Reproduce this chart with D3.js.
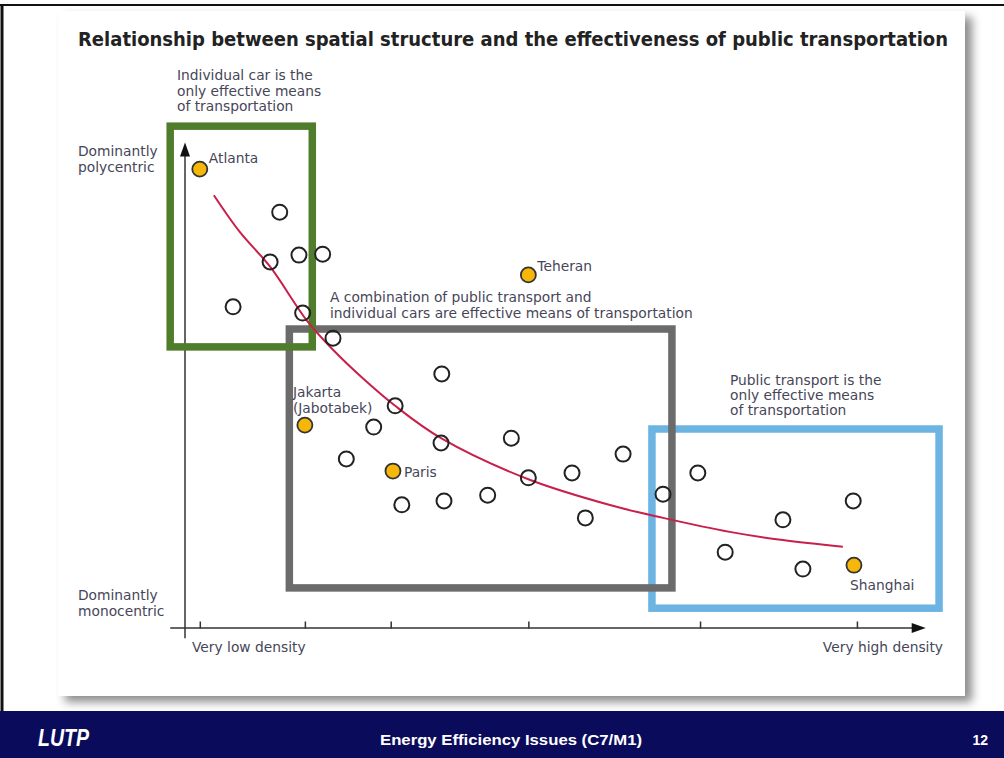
<!DOCTYPE html>
<html>
<head>
<meta charset="utf-8">
<script src="https://cdn.jsdelivr.net/npm/d3@7"></script>
<style>
  body { margin: 0; background: #fff; }
  svg { display: block; }
  text { font-family: "DejaVu Sans", sans-serif; }
</style>
</head>
<body>
<div id="viz"></div>
<script>
// density (0 = very low, 100 = very high) vs structure (0 = monocentric, 100 = polycentric)
let cityNames = ['Atlanta', 'Teheran', 'Jakarta', 'Paris', 'Shanghai'];
let cityX = [2.0, 46.4, 16.2, 28.1, 90.4];
let cityY = [95.0, 73.1, 42.0, 32.5, 13.0];

let otherX = [12.8, 11.5, 15.4, 18.6, 6.5, 15.9, 20.0, 34.7, 28.4, 25.5, 34.6, 44.1, 21.8,
    29.3, 35.0, 40.9, 46.4, 52.3, 59.2, 54.1, 64.6, 69.3, 73.0, 80.8, 90.3, 83.5];
let otherY = [86.1, 75.8, 77.2, 77.4, 66.5, 65.2, 60.0, 52.6, 46.0, 41.6, 38.3, 39.3, 35.0,
    25.5, 26.3, 27.5, 31.1, 32.1, 36.0, 22.8, 27.7, 32.1, 15.7, 22.4, 26.3, 12.2];

// trend curve
let trendX = [3.9, 7.4, 11.5, 16.5, 20.0, 24.1, 28.4, 34.6, 46.4, 57.8, 64.6, 73.6, 80.8, 88.9];
let trendY = [89.6, 82.0, 74.8, 63.6, 57.6, 51.6, 46.0, 39.3, 30.8, 25.3, 22.8, 19.9, 18.2, 16.8];

let tickVals = [2.0, 16.2, 27.8, 46.4, 69.6, 90.8];

// zones: [x0, x1, y0, y1]
let zoneNames = ['transit', 'mixed', 'car'];
let zoneBounds = [[63.1, 101.9, 4.1, 41.2], [14.1, 65.8, 8.3, 61.9], [-2.0, 17.2, 58.2, 103.9]];
let zoneColors = ['#6cb4e2', '#6b6b6b', '#4f7d2b'];

let width = 1004, height = 758;

let svg = d3.select('#viz').append('svg')
    .attr('width', width)
    .attr('height', height);

let defs = svg.append('defs');
let shadow = defs.append('filter').attr('id', 'shadow')
    .attr('x', '-5%').attr('y', '-5%').attr('width', '115%').attr('height', '115%');
shadow.append('feDropShadow')
    .attr('dx', 7).attr('dy', 6).attr('stdDeviation', 5)
    .attr('flood-color', '#000').attr('flood-opacity', 0.45);

// slide frame
svg.append('line').attr('x1', 0).attr('x2', width).attr('y1', 5).attr('y2', 5)
    .attr('stroke', '#111').attr('stroke-width', 2);
svg.append('line').attr('x1', 2).attr('x2', 2).attr('y1', 5).attr('y2', height)
    .attr('stroke', '#111').attr('stroke-width', 3);

svg.append('rect')
    .attr('x', 58).attr('y', 11).attr('width', 907).attr('height', 685)
    .attr('fill', '#fff')
    .attr('filter', 'url(#shadow)');

// footer
svg.append('rect').attr('x', 0).attr('y', 711).attr('width', width).attr('height', 47)
    .attr('fill', '#0b0b5c');
svg.append('text').attr('x', 38).attr('y', 746)
    .style('font-family', '"Liberation Sans", Arial, sans-serif')
    .style('font-style', 'italic').style('font-weight', 'bold').style('font-size', '23px')
    .attr('textLength', 51).attr('lengthAdjust', 'spacingAndGlyphs')
    .attr('fill', '#fff').text('LUTP');
svg.append('text').attr('x', 511).attr('y', 745).attr('text-anchor', 'middle')
    .style('font-family', '"Liberation Sans Narrow", "Liberation Sans", Arial, sans-serif')
    .style('font-weight', 'bold').style('font-size', '15px')
    .attr('textLength', 262).attr('lengthAdjust', 'spacingAndGlyphs')
    .attr('fill', '#fff').text('Energy Efficiency Issues (C7/M1)');
svg.append('text').attr('x', 988).attr('y', 745).attr('text-anchor', 'end')
    .style('font-family', '"Liberation Sans", Arial, sans-serif')
    .style('font-weight', 'bold').style('font-size', '14px')
    .attr('fill', '#fff').text('12');

// title
svg.append('text').attr('x', 78).attr('y', 46)
    .style('font-family', '"DejaVu Sans Condensed", "DejaVu Sans", sans-serif')
    .style('font-weight', 'bold').style('font-size', '20px')
    .attr('textLength', 870).attr('lengthAdjust', 'spacingAndGlyphs')
    .attr('fill', '#222')
    .text('Relationship between spatial structure and the effectiveness of public transportation');

let x = d3.scaleLinear().domain([0, 100]).range([185, 925]);
let y = d3.scaleLinear().domain([0, 100]).range([628, 145]);

let labelColor = '#464658';

// axes
let g = svg.append('g');
g.append('line')
    .attr('x1', x(-2)).attr('x2', x(99)).attr('y1', y(0)).attr('y2', y(0))
    .attr('stroke', '#333').attr('stroke-width', 1.5);
g.append('line')
    .attr('x1', x(0)).attr('x2', x(0)).attr('y1', y(-2.1)).attr('y2', y(98.5))
    .attr('stroke', '#333').attr('stroke-width', 1.5);
g.append('path')
    .attr('d', d3.line()([[x(0), y(100.5)], [x(0) - 5, y(97.6)], [x(0) + 5, y(97.6)]]))
    .attr('fill', '#111');
g.append('path')
    .attr('d', d3.line()([[x(100.1), y(0)], [x(98.2), y(0) - 5], [x(98.2), y(0) + 5]]))
    .attr('fill', '#111');

let xAxis = d3.axisBottom(x).tickValues(tickVals).tickSize(-7).tickSizeOuter(0).tickFormat('');
let ax = g.append('g').attr('transform', 'translate(0,' + (y(0) + 0.5) + ')').call(xAxis);
ax.select('.domain').remove();
ax.selectAll('.tick line').attr('stroke', '#333').attr('stroke-width', 1.5);

// zones
svg.selectAll('.zone')
    .data(zoneNames)
    .enter()
    .append('rect')
    .attr('class', 'zone')
    .attr('x', (d, i) => x(zoneBounds[i][0]))
    .attr('y', (d, i) => y(zoneBounds[i][3]))
    .attr('width', (d, i) => x(zoneBounds[i][1]) - x(zoneBounds[i][0]))
    .attr('height', (d, i) => y(zoneBounds[i][2]) - y(zoneBounds[i][3]))
    .attr('fill', 'none')
    .attr('stroke', (d, i) => zoneColors[i])
    .attr('stroke-width', 7.5);

// trend curve
let trend = trendX.map((v, i) => [v, trendY[i]]);
svg.append('path')
    .datum(trend)
    .attr('d', d3.line().x(d => x(d[0])).y(d => y(d[1])).curve(d3.curveCatmullRom))
    .attr('fill', 'none')
    .attr('stroke', '#c8204a')
    .attr('stroke-width', 2);

// other cities
svg.selectAll('.other')
    .data(otherX)
    .enter()
    .append('circle')
    .attr('class', 'other')
    .attr('cx', d => x(d))
    .attr('cy', (d, i) => y(otherY[i]))
    .attr('r', 7.5)
    .attr('fill', 'none')
    .attr('stroke', '#222')
    .attr('stroke-width', 2);

// named cities
svg.selectAll('.city')
    .data(cityNames)
    .enter()
    .append('circle')
    .attr('class', 'city')
    .attr('cx', (d, i) => x(cityX[i]))
    .attr('cy', (d, i) => y(cityY[i]))
    .attr('r', 7.5)
    .attr('fill', '#f6b70a')
    .attr('stroke', '#333')
    .attr('stroke-width', 1.8);

// text helper
function label(px, py, lines, opts) {
    opts = opts || {};
    let t = svg.append('text')
        .attr('x', px).attr('y', py)
        .attr('text-anchor', opts.anchor || 'start')
        .style('font-size', (opts.size || 13.8) + 'px')
        .attr('fill', opts.color || labelColor);
    lines.forEach((l, i) => {
        t.append('tspan').attr('x', px).attr('dy', i === 0 ? 0 : (opts.lh || 16)).text(l);
    });
    return t;
}

// city labels
let cityDx = [9, 9, -12, 11, -4];
let cityDy = [-6, -4, -28, 6, 25];
cityNames.forEach((c, i) => {
    let lines = c === 'Jakarta' ? ['Jakarta', '(Jabotabek)'] : [c];
    label(x(cityX[i]) + cityDx[i], y(cityY[i]) + cityDy[i], lines);
});

// axis labels
label(78, 156, ['Dominantly', 'polycentric'], {lh: 15.5});
label(78, 600, ['Dominantly', 'monocentric'], {lh: 15.5});
label(192, 652, ['Very low density']);
label(943, 652, ['Very high density'], {anchor: 'end'});

// zone labels
label(177, 80, ['Individual car is the', 'only effective means', 'of transportation'], {lh: 15.5});
label(330, 302, ['A combination of public transport and',
    'individual cars are effective means of transportation'], {lh: 15.5});
label(730, 385, ['Public transport is the', 'only effective means', 'of transportation'], {lh: 15});
</script>
</body>
</html>
